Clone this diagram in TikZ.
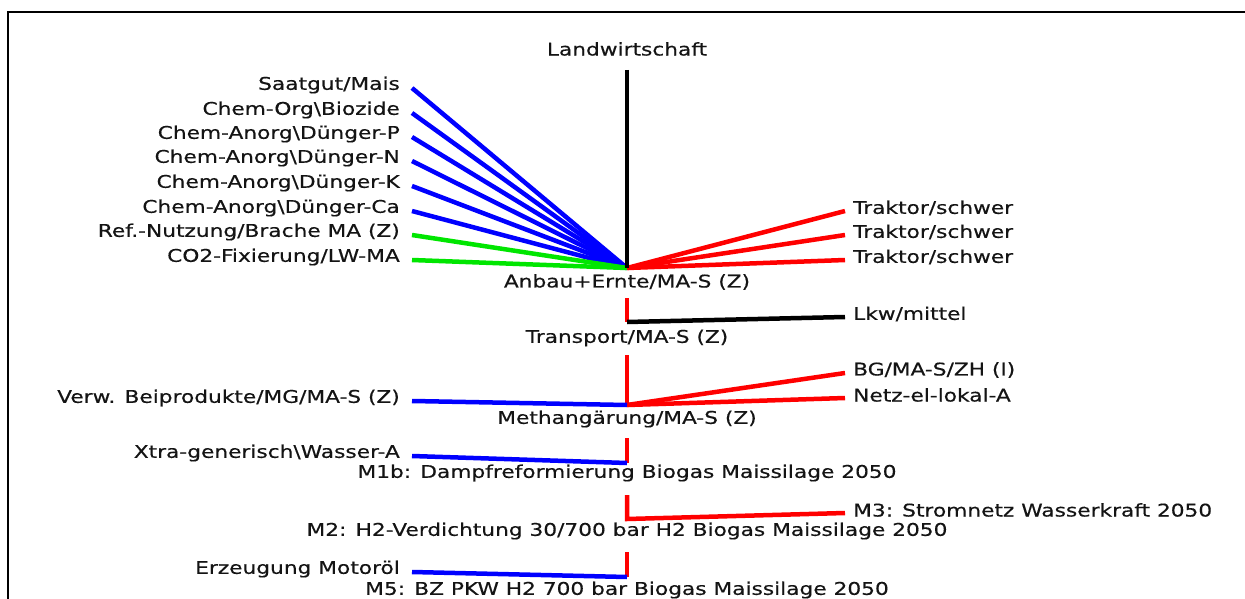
\documentclass[tikz,border=0pt]{standalone}
\usepackage{fontspec}
\setmainfont[FakeStretch=1.24,FakeBold=0.4]{DejaVu Sans}
\definecolor{lnblue}{RGB}{0,0,255}
\definecolor{lngreen}{RGB}{0,230,0}
\definecolor{lnred}{RGB}{255,0,0}
\definecolor{txt}{RGB}{20,20,20}
\begin{document}
\begin{tikzpicture}[x=1pt,y=-1pt,
  lbl/.style={inner sep=0pt, font=\fontsize{17.5}{20}\selectfont, text=txt},
  lleft/.style={lbl, anchor=east},
  lright/.style={lbl, anchor=west},
  conn/.style={line width=4.5pt},
  cb/.style={conn, draw=lnblue},
  cg/.style={conn, draw=lngreen},
  cr/.style={conn, draw=lnred},
  ck/.style={conn, draw=black},
  frame/.style={line width=2.8pt, draw=black}]
\useasboundingbox (0,0) rectangle (1245,599);
\clip (0,0) rectangle (1245,599);
\fill[white] (0,0) rectangle (1245,599);
\draw[frame] (8,12) rectangle (1260,620);

% process labels
\node[lbl] (land) at (627,49) {Landwirtschaft};
\node[lbl] (anbau) at (627,282) {Anbau+Ernte/MA-S (Z)};
\node[lbl] (transp) at (627,338) {Transport/MA-S (Z)};
\node[lbl] (meth) at (627,419) {Methangärung/MA-S (Z)};
\node[lbl] (mib) at (627,473) {M1b: Dampfreformierung Biogas Maissilage 2050};
\node[lbl] (mii) at (627,531) {M2: H2-Verdichtung 30/700 bar H2 Biogas Maissilage 2050};
\node[lbl] (mv) at (627,590) {M5: BZ PKW H2 700 bar Biogas Maissilage 2050};

% hubs and line tops
\coordinate (h1) at (627,268);
\coordinate (h2) at (627,322);
\coordinate (h3) at (627,405);
\coordinate (h4) at (627,463);
\coordinate (h5) at (627,519);
\coordinate (h6) at (627,577);
\coordinate (t1) at (627,70);
\coordinate (t2) at (627,298);
\coordinate (t3) at (627,355);
\coordinate (t4) at (627,438);
\coordinate (t5) at (627,495);
\coordinate (t6) at (627,552);

% inputs to Anbau+Ernte
\node[lleft] (a1) at (400,85) {Saatgut/Mais};
\node[lleft] (a2) at (400,110) {Chem-Org\textbackslash Biozide};
\node[lleft] (a3) at (400,134) {Chem-Anorg\textbackslash Dünger-P};
\node[lleft] (a4) at (400,158) {Chem-Anorg\textbackslash Dünger-N};
\node[lleft] (a5) at (400,183) {Chem-Anorg\textbackslash Dünger-K};
\node[lleft] (a6) at (400,208) {Chem-Anorg\textbackslash Dünger-Ca};
\node[lleft] (a7) at (400,232) {Ref.-Nutzung/Brache MA (Z)};
\node[lleft] (a8) at (400,257) {CO2-Fixierung/LW-MA};
\node[lright] (r1) at (853,208) {Traktor/schwer};
\node[lright] (r2) at (853,232) {Traktor/schwer};
\node[lright] (r3) at (853,257) {Traktor/schwer};

\foreach \n in {a1,a2,a3,a4,a5,a6}
  \draw[cb] ([xshift=12pt,yshift=-3pt]\n.east) -- (h1);
\foreach \n in {a7,a8}
  \draw[cg] ([xshift=12pt,yshift=-3pt]\n.east) -- (h1);
\foreach \n in {r1,r2,r3}
  \draw[cr] (h1) -- ([xshift=-8pt,yshift=-3pt]\n.west);
\draw[ck] (t1) -- (h1);

% Transport
\node[lright] (lkw) at (853,314) {Lkw/mittel};
\draw[cr] (t2) -- (h2);
\draw[ck] (h2) -- ([xshift=-8pt,yshift=-3pt]lkw.west);

% Methangaerung
\node[lright] (bg) at (853,370) {BG/MA-S/ZH (I)};
\node[lright] (netz) at (853,395) {Netz-el-lokal-A};
\node[lleft] (verw) at (400,398) {Verw. Beiprodukte/MG/MA-S (Z)};
\draw[cr] (t3) -- (h3);
\draw[cr] (h3) -- ([xshift=-8pt,yshift=-3pt]bg.west);
\draw[cr] (h3) -- ([xshift=-8pt,yshift=-3pt]netz.west);
\draw[cb] ([xshift=12pt,yshift=-3pt]verw.east) -- (h3);

% M1b
\node[lleft] (xtra) at (400,453) {Xtra-generisch\textbackslash Wasser-A};
\draw[cr] (t4) -- (h4);
\draw[cb] ([xshift=12pt,yshift=-3pt]xtra.east) -- (h4);

% M2
\node[lright] (miii) at (853,510) {M3: Stromnetz Wasserkraft 2050};
\draw[cr] (t5) -- (h5) -- ([xshift=-8pt,yshift=-3pt]miii.west);

% M5
\node[lleft] (motor) at (400,569) {Erzeugung Motoröl};
\draw[cr] (t6) -- (h6);
\draw[cb] ([xshift=12pt,yshift=-3pt]motor.east) -- (h6);
\end{tikzpicture}
\end{document}
